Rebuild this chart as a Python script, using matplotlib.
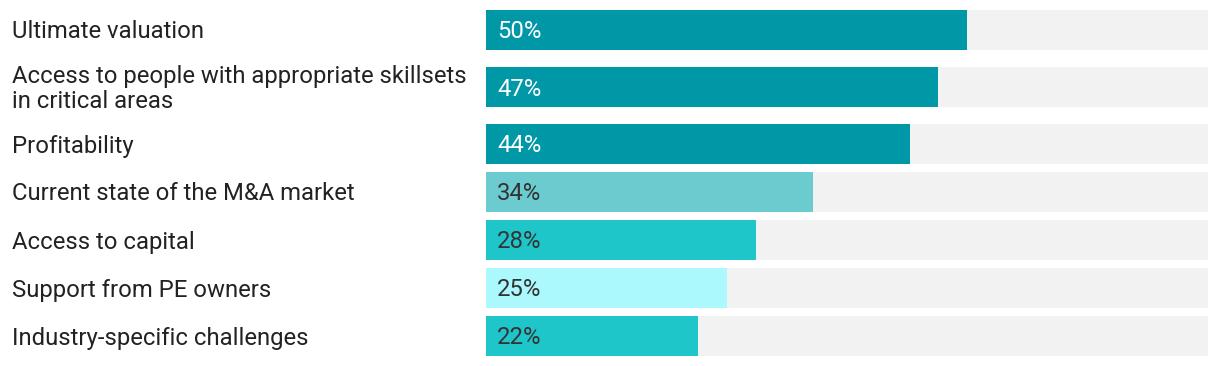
import matplotlib as mpl
mpl.use('Agg')
import matplotlib.pyplot as plt
import matplotlib.transforms as mtransforms

plt.rcParams['font.family'] = ['Roboto', 'DejaVu Sans']

labels = ["Ultimate valuation",
          "Access to people with appropriate skillsets\nin critical areas",
          "Profitability",
          "Current state of the M&A market",
          "Access to capital",
          "Support from PE owners",
          "Industry-specific challenges"]
values = [50, 47, 44, 34, 28, 25, 22]
colors = ['#0097A7', '#0097A7', '#0097A7', '#6CCBCF', '#1FC6C9', '#ABF8FD', '#1FC6C9']
text_colors = ['white', 'white', 'white', '#333333', '#333333', '#333333', '#333333']
axis_max = 75

W, H = 1220, 366
fig = plt.figure(figsize=(W / 100, H / 100), dpi=100)
ax = fig.add_axes([486 / W, 0, (1208 - 486) / W, 1])
ax.set_xlim(0, axis_max)
ax.set_ylim(H, 0)
ax.axis('off')

# row layout in pixels: taller rows for two-line labels
top = 6
centers = []
for lab in labels:
    h = 66 if '\n' in lab else 48
    centers.append(top + h / 2)
    top += h

bar_h = 40
ax.barh(centers, [axis_max] * len(values), height=bar_h, color='#F2F2F2', lw=0)
ax.barh(centers, values, height=bar_h, color=colors, lw=0)

trans = mtransforms.blended_transform_factory(fig.transFigure, ax.transData)
trans = mtransforms.offset_copy(trans, fig=fig, x=0, y=-2, units='dots')
pad = mtransforms.offset_copy(ax.transData, fig=fig, x=11, y=-2, units='dots')
for c, lab, v, tc in zip(centers, labels, values, text_colors):
    ax.text(12 / W, c, lab, transform=trans, ha='left', va='center',
            fontsize=17.2, color='#222222', linespacing=1.12)
    ax.text(0, c, f"{v}%", transform=pad, ha='left', va='center',
            fontsize=17.2, color=tc)

fig.savefig('out.png', dpi=100)
